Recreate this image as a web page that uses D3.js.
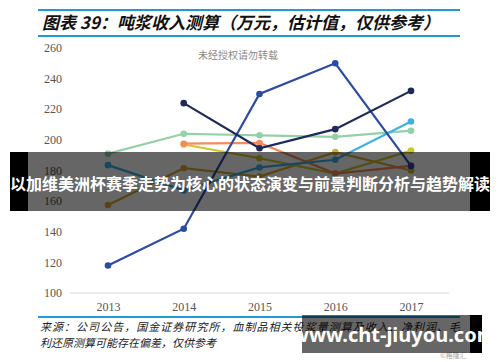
<!DOCTYPE html>
<html>
<head>
<meta charset="utf-8">
<script src="https://cdn.jsdelivr.net/npm/d3@7"></script>
<style>
  html, body { margin: 0; padding: 0; background: #fff; }
  svg { display: block; }
</style>
</head>
<body>
<svg id="chart" width="500" height="362"></svg>
<script>
const years = ['2013', '2014', '2015', '2016', '2017'];
const yTicks = [100, 120, 140, 160, 180, 200, 220, 240, 260];

// null = no value
const royalBlue = [118, 142, 230, 250, 183];
const navy = [null, 224, 194.5, 207, 232];
const lightGreen = [191, 204, 203, 202, 206];
const orange = [null, 197.5, 198, 178, 183];
const yellow = [null, 197, 188, 178, 193];
const gold = [157.5, 181.5, 176, 192, 180];
const skyBlue = [183.5, 167, 182, 187, 212];

const series = [
  { values: lightGreen, color: '#93d1a6' },
  { values: gold, color: '#d6ab35' },
  { values: yellow, color: '#cbc82c' },
  { values: orange, color: '#f58a5c' },
  { values: skyBlue, color: '#3eb1e3' },
  { values: royalBlue, color: '#2c4ba3' },
  { values: navy, color: '#1f2a58' }
];

const svg = d3.select('#chart');

// title block
svg.append('line').attr('x1', 38).attr('x2', 460).attr('y1', 10).attr('y2', 10)
  .attr('stroke', '#1d9bd6').attr('stroke-width', 2);
svg.append('line').attr('x1', 38).attr('x2', 460).attr('y1', 36).attr('y2', 36)
  .attr('stroke', '#1d9bd6').attr('stroke-width', 2);
svg.append('text')
  .attr('x', 42).attr('y', 29)
  .attr('font-family', 'Noto Sans CJK SC')
  .attr('font-size', 17).attr('font-weight', 'bold').attr('font-style', 'italic')
  .attr('fill', '#111')
  .text('图表 39：吨浆收入测算（万元，估计值，仅供参考）');

const x = d3.scalePoint().domain(years).range([108, 411]);
const y = d3.scaleLinear().domain([100, 260]).range([293, 48]);

// y labels
svg.append('g').selectAll('text')
  .data(yTicks)
  .enter()
  .append('text')
  .attr('x', 62)
  .attr('y', (d) => y(d))
  .attr('dy', '0.35em')
  .attr('text-anchor', 'end')
  .attr('font-family', 'Liberation Serif')
  .attr('font-size', 12)
  .attr('fill', '#555')
  .text((d) => d);

// x axis
const xAxis = svg.append('g')
  .attr('transform', `translate(0,${y(100)})`)
  .call(d3.axisBottom(x).tickSize(0).tickPadding(9));
xAxis.select('.domain').attr('d', 'M70,0H449').attr('stroke', '#d9d9d9');
xAxis.selectAll('text')
  .attr('font-family', 'Liberation Serif')
  .attr('font-size', 12)
  .attr('fill', '#555');

svg.append('text')
  .attr('x', 238).attr('y', 59)
  .attr('text-anchor', 'middle')
  .attr('font-family', 'Noto Sans CJK SC')
  .attr('font-size', 10)
  .attr('fill', '#8a8a8a')
  .text('未经授权请勿转载');

const line = d3.line()
  .defined((d) => d != null)
  .x((d, i) => x(years[i]))
  .y((d) => y(d));

series.forEach((s) => {
  svg.append('path')
    .attr('d', line(s.values))
    .attr('fill', 'none')
    .attr('stroke', s.color)
    .attr('stroke-width', 2.2);
  svg.append('g').selectAll('circle')
    .data(s.values.map((v, i) => ({ v, i })).filter((d) => d.v != null))
    .enter()
    .append('circle')
    .attr('cx', (d) => x(years[d.i]))
    .attr('cy', (d) => y(d.v))
    .attr('r', 3.3)
    .attr('fill', s.color);
});

// footer
svg.append('line').attr('x1', 38).attr('x2', 460).attr('y1', 317).attr('y2', 317)
  .attr('stroke', '#1d9bd6').attr('stroke-width', 2);
const foot = svg.append('text')
  .attr('font-family', 'Noto Sans CJK SC')
  .attr('font-size', 11).attr('font-style', 'italic')
  .attr('fill', '#222');
foot.append('tspan').attr('x', 40).attr('y', 331)
  .attr('textLength', 420)
  .text('来源：公司公告，国金证券研究所，血制品相关投浆量测算及收入、净利润、毛');
foot.append('tspan').attr('x', 40).attr('y', 347)
  .text('利还原测算可能存在偏差，仅供参考');
svg.append('text')
  .attr('x', 440).attr('y', 358)
  .attr('font-family', 'Noto Sans CJK SC')
  .attr('font-size', 7).attr('fill', '#aaa')
  .text('©格隆汇');

// overlay banner
svg.append('rect').attr('x', 10).attr('y', 152).attr('width', 480).attr('height', 59)
  .attr('fill', '#000').attr('fill-opacity', 0.6);
svg.append('rect').attr('x', 10).attr('y', 152).attr('width', 18).attr('height', 59)
  .attr('fill', '#000');
svg.append('rect').attr('x', 470).attr('y', 152).attr('width', 20).attr('height', 59)
  .attr('fill', '#000');
svg.append('text')
  .attr('x', 250).attr('y', 184)
  .attr('dy', '0.35em')
  .attr('text-anchor', 'middle')
  .attr('font-family', 'Noto Sans CJK SC')
  .attr('font-size', 16).attr('font-weight', 'bold')
  .attr('fill', '#fff')
  .attr('textLength', 480)
  .text('以加维美洲杯赛季走势为核心的状态演变与前景判断分析与趋势解读');

// watermark box
svg.append('rect').attr('x', 302).attr('y', 315).attr('width', 180).attr('height', 38)
  .attr('fill', '#000').attr('fill-opacity', 0.6);
svg.append('rect').attr('x', 470).attr('y', 315).attr('width', 12).attr('height', 38)
  .attr('fill', '#000');
svg.append('text')
  .attr('x', 394).attr('y', 335)
  .attr('dy', '0.35em')
  .attr('text-anchor', 'middle')
  .attr('font-family', 'Noto Sans')
  .attr('font-size', 20).attr('font-weight', 'bold')
  .attr('fill', '#fff')
  .text('www.cht-jiuyou.com');
</script>
</body>
</html>
